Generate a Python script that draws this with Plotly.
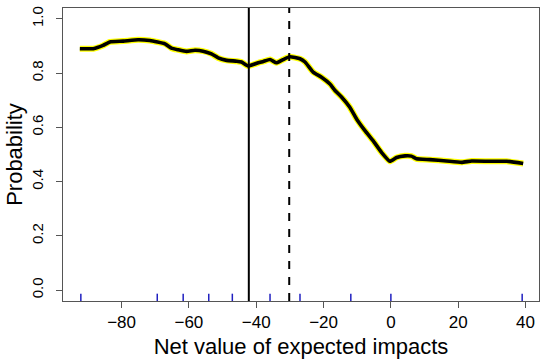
import plotly.graph_objects as go

# Smoothed probability curve
curve_x = [-92.4, -88.4, -85.5, -83.5, -79.5, -75.1, -71.6, -67.1, -65.2, -63.2,
           -60.7, -58.2, -55.8, -53.3, -51.3, -48.8, -45.8, -44.4, -42.4, -39.4,
           -37.9, -35.9, -34.0, -32.0, -30.0, -27.0, -25.5, -23.1, -20.6, -18.1,
           -16.6, -14.6, -12.2, -10.2, -7.7, -5.3, -2.8, -0.3, 1.7, 4.2,
           6.1, 7.6, 11.6, 16.5, 21.0, 24.0, 29.4, 34.4, 39.3]
curve_y = [0.890, 0.890, 0.902, 0.915, 0.918, 0.923, 0.920, 0.908, 0.892, 0.886,
           0.880, 0.884, 0.881, 0.871, 0.856, 0.847, 0.844, 0.841, 0.826, 0.838,
           0.843, 0.850, 0.838, 0.850, 0.860, 0.853, 0.841, 0.804, 0.785, 0.760,
           0.736, 0.711, 0.674, 0.631, 0.588, 0.551, 0.508, 0.475, 0.489, 0.495,
           0.494, 0.484, 0.481, 0.476, 0.471, 0.476, 0.475, 0.475, 0.467]

# Rug of observed values
rug_x = [-92.1, -69.4, -61.7, -54.1, -47.1, -35.9, -27.0, -11.9, 0.0, 39.0]

# Reference lines
solid_line_x = -42.2
dashed_line_x = -30.2

x_ticks = [-80, -60, -40, -20, 0, 20, 40]
y_ticks = [0.0, 0.2, 0.4, 0.6, 0.8, 1.0]

FONT = "Liberation Sans, Arial, sans-serif"

fig = go.Figure()
fig.add_trace(go.Scatter(x=curve_x, y=curve_y, mode="lines",
                         line=dict(color="#ffff00", width=6, shape="spline", smoothing=0.4),
                         hoverinfo="skip", showlegend=False))
fig.add_trace(go.Scatter(x=curve_x, y=curve_y, mode="lines",
                         line=dict(color="black", width=3.6, shape="spline", smoothing=0.4),
                         showlegend=False))

shapes = []
for rx in rug_x:
    shapes.append(dict(type="line", xref="x", yref="paper", x0=rx, x1=rx, y0=0.0, y1=0.025,
                       line=dict(color="#2020c0", width=1.5)))
shapes.append(dict(type="line", xref="x", yref="paper", x0=solid_line_x, x1=solid_line_x,
                   y0=0, y1=1, line=dict(color="black", width=2)))
shapes.append(dict(type="line", xref="x", yref="paper", x0=dashed_line_x, x1=dashed_line_x,
                   y0=0, y1=1, line=dict(color="black", width=2, dash="8px,8px")))

fig.update_layout(
    width=550, height=364,
    margin=dict(l=63, r=11, t=8, b=63),
    paper_bgcolor="white", plot_bgcolor="white",
    font=dict(family=FONT, color="black", size=16),
    shapes=shapes,
    xaxis=dict(range=[-97.4, 44.0], tickvals=x_ticks, ticks="outside", ticklen=6,
               tickcolor="#555", showline=True, linecolor="#555", linewidth=1, mirror=True,
               showgrid=False, zeroline=False, tickfont=dict(size=17), automargin=False,
               title=dict(text="Net value of expected impacts", font=dict(size=22), standoff=7)),
    yaxis=dict(range=[-0.04, 1.04], tickvals=y_ticks, tickformat=".1f", ticks="outside",
               ticklen=6, tickcolor="#555", tickangle=-90, showline=True, linecolor="#555",
               linewidth=1, mirror=True, showgrid=False, zeroline=False, tickfont=dict(size=15),
               automargin=False, ticklabelstandoff=7,
               title=dict(text="Probability", font=dict(size=22), standoff=0)),
)

fig.write_html("out.html", config={"displayModeBar": False},
               post_script="document.body.style.margin='0px';document.body.style.overflow='hidden';")
